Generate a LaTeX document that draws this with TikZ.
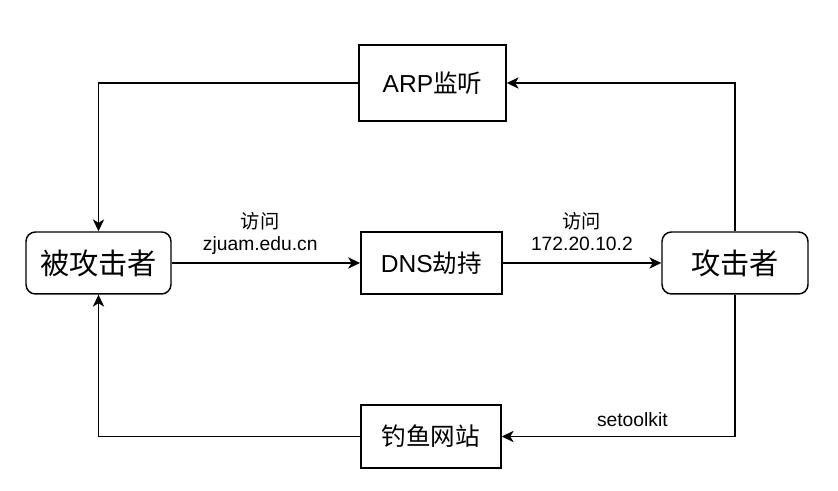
\documentclass[tikz,border=0pt]{standalone}
\usepackage{fontspec}
\setmainfont{Liberation Sans}
\newfontfamily\cjk{Noto Sans CJK SC}
\usepackage{tikz}
\usetikzlibrary{arrows.meta}
\tikzset{>={Stealth[length=9pt, width=8.5pt, inset=2.6pt]}}

\begin{document}
\begin{tikzpicture}[
  box/.style = {draw, line width=1.1pt, inner sep=0pt, font=\fontsize{18.5}{22}\selectfont},
  party/.style = {box, rounded corners=0.25cm, font=\fontsize{22}{26}\selectfont},
  link/.style = {line width=1pt, ->},
  tag/.style = {font=\fontsize{14.5}{16.5}\selectfont, align=center, text depth=3pt}
]
\useasboundingbox (0,0) rectangle (22.172,-12.991);
\node [party, minimum width=3.836cm, minimum height=1.640cm] (victim) at (2.606, -6.958) {\cjk 被攻击者};
\node [box, minimum width=3.731cm, minimum height=1.640cm] (dns) at (11.411, -6.958) {DNS{\cjk 劫持}};
\node [party, minimum width=3.863cm, minimum height=1.640cm] (attacker) at (19.447, -6.958) {\cjk 攻击者};
\node [box, minimum width=3.889cm, minimum height=2.011cm] (arp) at (11.443, -2.196) {ARP{\cjk 监听}};
\node [box, minimum width=3.704cm, minimum height=1.667cm] (phish) at (11.403, -11.549) {\cjk 钓鱼网站};
\draw [link] (arp.west) -| (victim.north);
\draw [link] (attacker.north) |- (arp.east);
\draw [link] (victim) -- node [tag, pos=0.47, above=2.5pt] {{\cjk 访问}\\zjuam.edu.cn} (dns);
\draw [link] (dns) -- node [tag, above=2.5pt] {{\cjk 访问}\\172.20.10.2} (attacker);
\draw [link] (attacker.south) |- node [tag, pos=0.72, above=0.5pt] {setoolkit} (phish.east);
\draw [link] (phish.west) -| (victim.south);
\end{tikzpicture}
\end{document}
